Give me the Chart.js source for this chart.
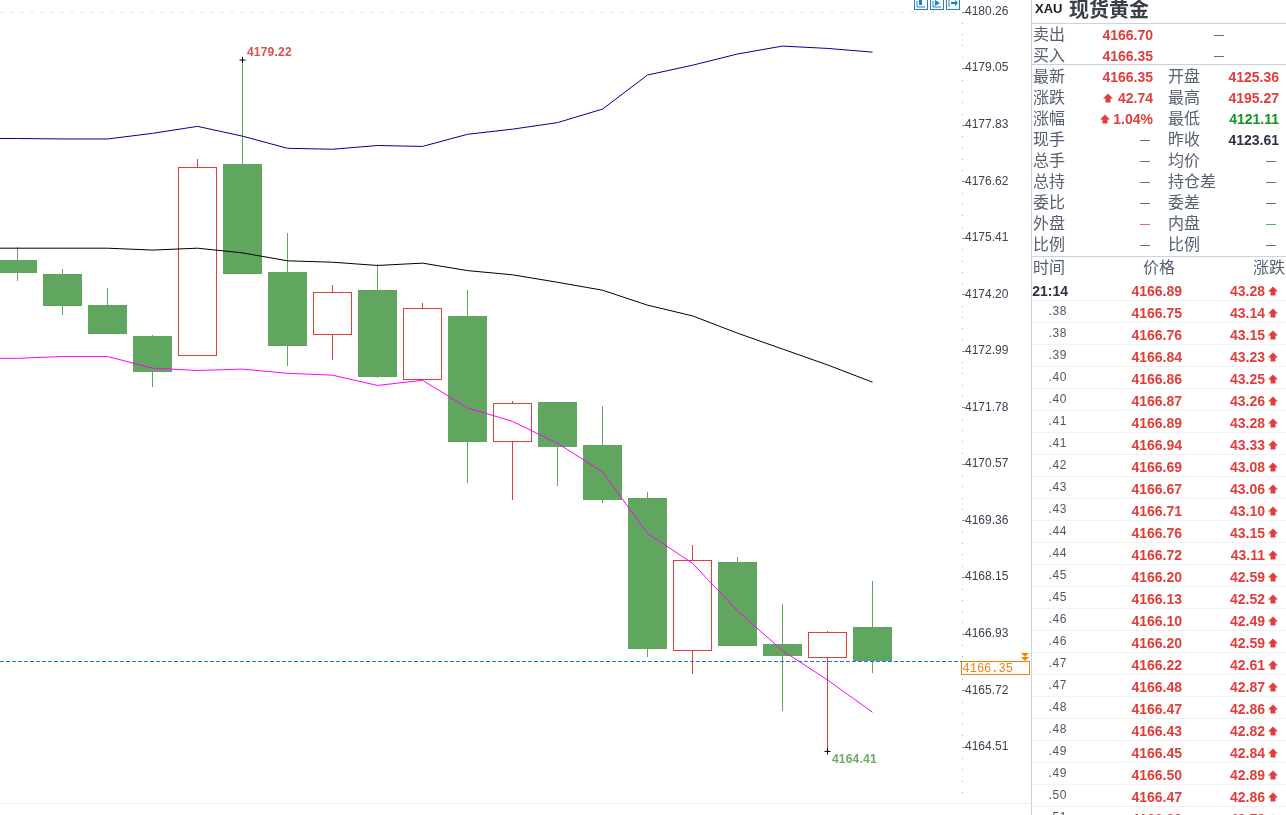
<!DOCTYPE html>
<html>
<head>
<meta charset="utf-8">
<title>XAU 现货黄金</title>
<script src="https://cdn.jsdelivr.net/npm/chart.js@4/dist/chart.umd.min.js"></script>
<style>
html, body { margin: 0; padding: 0; width: 1286px; height: 815px; overflow: hidden; background: #fff; }
#klineChart { position: absolute; left: 0; top: 0; display: block; }
#bottomRule { position: absolute; left: 0; top: 803px; width: 1031px; height: 1px; background: #eeeeee; }
#toolIcons { position: absolute; left: 914px; top: 0; width: 46px; height: 10px; }
#toolIcons svg { position: absolute; top: 0; }
#quotePanel { position: absolute; left: 1031px; top: 0; width: 255px; height: 815px; overflow: hidden; border-left: 1px solid #cdd5dc; box-sizing: border-box; }
#quotePanel .t { position: absolute; height: 20px; line-height: 20px; white-space: nowrap; }
#quotePanel .cn { font: 16px/16px "Noto Sans CJK SC", sans-serif; color: #566070; }
#quotePanel .num { font: bold 14px/20px "Liberation Sans", sans-serif; }
#quotePanel .sub { font: 12px/20px "Liberation Sans", sans-serif; color: #4d5766; letter-spacing: .6px; }
#quotePanel .dash { font: 10px/20px "Liberation Sans", sans-serif; color: #39424f; }
#quotePanel .rule { position: absolute; left: 0; right: 0; height: 1px; }
#quotePanel svg { position: absolute; }
</style>
</head>
<body>
<canvas id="klineChart" width="1031" height="815"></canvas>
<div id="bottomRule"></div>
<div id="toolIcons"></div>
<div id="quotePanel"></div>
<script>
// 5-minute candles, oldest first
const opens  = [4174.94, 4174.64, 4173.97, 4173.31, 4172.89, 4176.99, 4174.68, 4173.32, 4174.29, 4172.36, 4173.74, 4171.04, 4171.90, 4170.97, 4169.84, 4166.57, 4168.47, 4166.71, 4166.42, 4167.08];
const closes = [4174.66, 4173.95, 4173.35, 4172.54, 4176.94, 4174.64, 4173.09, 4174.25, 4172.43, 4173.91, 4171.03, 4171.87, 4170.94, 4169.80, 4166.60, 4168.51, 4166.67, 4166.45, 4166.96, 4166.35];
const highs  = [4175.22, 4174.74, 4174.34, 4173.33, 4177.10, 4179.22, 4175.51, 4174.40, 4174.85, 4174.02, 4174.29, 4171.92, 4171.90, 4171.81, 4169.97, 4168.83, 4168.57, 4167.57, 4166.99, 4168.06];
const lows   = [4174.49, 4173.76, 4173.35, 4172.22, 4172.89, 4174.64, 4172.67, 4172.79, 4172.41, 4172.36, 4170.16, 4169.80, 4170.10, 4169.73, 4166.43, 4166.07, 4166.67, 4165.28, 4164.41, 4166.10];

// band lines carry one extra leading value so they run in from the left edge
const upperBand = [4177.54, 4177.54, 4177.53, 4177.53, 4177.65, 4177.80, 4177.59, 4177.33, 4177.31, 4177.39, 4177.37, 4177.63, 4177.74, 4177.88, 4178.17, 4178.90, 4179.11, 4179.35, 4179.52, 4179.47, 4179.39];
const midBand   = [4175.19, 4175.19, 4175.19, 4175.19, 4175.15, 4175.19, 4175.09, 4174.92, 4174.89, 4174.82, 4174.87, 4174.71, 4174.62, 4174.46, 4174.29, 4173.97, 4173.74, 4173.37, 4173.03, 4172.69, 4172.32];
const lowerBand = [4172.83, 4172.83, 4172.87, 4172.87, 4172.62, 4172.57, 4172.60, 4172.51, 4172.47, 4172.25, 4172.36, 4171.77, 4171.48, 4171.01, 4170.40, 4169.08, 4168.44, 4167.42, 4166.57, 4165.94, 4165.25];

const priceTicks = [4180.26, 4179.05, 4177.83, 4176.62, 4175.41, 4174.20, 4172.99, 4171.78, 4170.57, 4169.36, 4168.15, 4166.93, 4165.72, 4164.51];
const lastPrice = 4166.35;
const highestIndex = 5;
const lowestIndex = 18;

// quote panel
const askBidLabels = ['卖出', '买入'];
const askBidValues = ['4166.70', '4166.35'];
const leftLabels = ['最新', '涨跌', '涨幅', '现手', '总手', '总持', '委比', '外盘', '比例'];
const leftValues = ['4166.35', '42.74', '1.04%', '—', '—', '—', '—', '—', '—'];
const rightLabels = ['开盘', '最高', '最低', '昨收', '均价', '持仓差', '委差', '内盘', '比例'];
const rightValues = ['4125.36', '4195.27', '4121.11', '4123.61', '—', '—', '—', '—', '—'];
const tradeHeaders = ['时间', '价格', '涨跌'];

// tick list
const tradeTimes = ['21:14', '.38', '.38', '.39', '.40', '.40', '.41', '.41', '.42', '.43', '.43', '.44', '.44', '.45', '.45', '.46', '.46', '.47', '.47', '.48', '.48', '.49', '.49', '.50', '.51'];
const tradePrices = ['4166.89', '4166.75', '4166.76', '4166.84', '4166.86', '4166.87', '4166.89', '4166.94', '4166.69', '4166.67', '4166.71', '4166.76', '4166.72', '4166.20', '4166.13', '4166.10', '4166.20', '4166.22', '4166.48', '4166.47', '4166.43', '4166.45', '4166.50', '4166.47', '4166.39'];
const tradeChanges = ['43.28', '43.14', '43.15', '43.23', '43.25', '43.26', '43.28', '43.33', '43.08', '43.06', '43.10', '43.15', '43.11', '42.59', '42.52', '42.49', '42.59', '42.61', '42.87', '42.86', '42.82', '42.84', '42.89', '42.86', '42.78'];

const RED = '#dc403c';
const GREEN = '#61a65e';
const ORANGE = '#f57f0c';
const TEXT_RED = '#df3e3a';

const isUp = i => closes[i] >= opens[i];
const candleColor = ctx => isUp(ctx.dataIndex) ? RED : GREEN;

// minor dots, major ticks, top rule, last-price tag and high/low captions
const klineDecor = {
    id: 'klineDecor',
    afterDatasetsUpdate(chart) {
        // snap candle edges and the last-price line to whole pixels so they stay sharp
        chart.data.datasets.forEach((ds, idx) => {
            const meta = chart.getDatasetMeta(idx);
            if (ds.label === 'last') {
                meta.data.forEach(pt => { pt.y = Math.round(pt.y) + 0.5; });
            }
            if (ds.type === 'line') return;
            meta.data.forEach(bar => {
                bar.x = Math.floor(bar.x) + 0.5;
                bar.y = Math.round(bar.y);
                bar.base = Math.round(bar.base);
            });
        });
    },
    afterDraw(chart) {
        const { ctx } = chart;
        const y = chart.scales.y;
        const x = chart.scales.x;
        const right = chart.chartArea.right;
        ctx.save();

        ctx.strokeStyle = '#e9e9e9';
        ctx.setLineDash([4, 6]);
        ctx.beginPath();
        const topY = Math.round(y.getPixelForValue(priceTicks[0])) + 0.5;
        ctx.moveTo(0, topY);
        ctx.lineTo(right - 2, topY);
        ctx.stroke();
        ctx.setLineDash([]);

        const step = (priceTicks[0] - priceTicks[1]) / 5;
        priceTicks.forEach((v, i) => {
            const py = Math.round(y.getPixelForValue(v));
            ctx.fillStyle = '#8d8d8d';
            ctx.fillRect(right, py, 3, 1);
            if (i === 0) return;
            for (let k = 1; k < 5; k++) {
                ctx.fillStyle = '#b5b5b5';
                ctx.fillRect(right, Math.round(y.getPixelForValue(v + step * k)), 1, 1);
            }
        });
        for (let k = 1; k < 5; k++) {
            const py = Math.round(y.getPixelForValue(priceTicks[priceTicks.length - 1] - step * k));
            ctx.fillStyle = '#b5b5b5';
            ctx.fillRect(right, py, 1, 1);
        }

        // last price tag
        const lastY = Math.round(y.getPixelForValue(lastPrice));
        ctx.strokeStyle = ORANGE;
        ctx.strokeRect(961.5, lastY + 0.5, 68, 13);
        ctx.fillStyle = ORANGE;
        ctx.font = '12px "Liberation Mono", monospace';
        ctx.textBaseline = 'middle';
        ctx.textAlign = 'left';
        ctx.fillText(lastPrice.toFixed(2), 962.5, lastY + 7.5);
        [lastY - 8, lastY - 4].forEach(ty => {
            ctx.beginPath();
            ctx.moveTo(1021, ty);
            ctx.lineTo(1029, ty);
            ctx.lineTo(1025, ty + 4);
            ctx.closePath();
            ctx.fill();
        });

        // high and low captions
        ctx.font = 'bold 12px "Liberation Sans", sans-serif';
        ctx.letterSpacing = '.2px';
        ctx.fillStyle = '#d9504c';
        ctx.fillText(highs[highestIndex].toFixed(2), x.getPixelForValue(highestIndex) + 4.5, y.getPixelForValue(highs[highestIndex]) - 7);
        ctx.fillStyle = '#6eaa69';
        ctx.fillText(lows[lowestIndex].toFixed(2), x.getPixelForValue(lowestIndex) + 4.5, y.getPixelForValue(lows[lowestIndex]) + 8);
        ctx.restore();
    }
};

const lineSet = (label, values, color) => ({
    type: 'line',
    label,
    data: values.map((v, i) => ({ x: i - 1, y: v })),
    borderColor: color,
    borderWidth: 1,
    pointRadius: 0,
    tension: 0,
    order: 1
});

const wicks = opens.map((_, i) => ({ x: i, y: [lows[i], highs[i]] }));
const bodies = opens.map((o, i) => ({ x: i, y: [o, closes[i]] }));
const xMin = -17.5 / 45;
const xMax = xMin + 962 / 45;

new Chart(document.getElementById('klineChart').getContext('2d'), {
    type: 'bar',
    data: {
        datasets: [
            {
                label: 'wick',
                data: wicks,
                backgroundColor: candleColor,
                borderWidth: 0,
                inflateAmount: 0,
                barThickness: 1,
                grouped: false,
                order: 3
            },
            {
                label: 'body',
                data: bodies,
                backgroundColor: ctx => isUp(ctx.dataIndex) ? '#ffffff' : GREEN,
                borderColor: candleColor,
                borderWidth: ctx => isUp(ctx.dataIndex) ? 1 : 0,
                borderSkipped: false,
                inflateAmount: 0,
                barThickness: 39,
                grouped: false,
                order: 2
            },
            lineSet('upper', upperBand, '#00008f'),
            lineSet('mid', midBand, '#000000'),
            lineSet('lower', lowerBand, '#ff00ff'),
            {
                type: 'line',
                label: 'last',
                data: [{ x: xMin, y: lastPrice }, { x: xMax, y: lastPrice }],
                borderColor: '#1c78dc',
                borderWidth: 1,
                borderDash: [4, 2],
                pointRadius: 0,
                order: 1
            },
            {
                type: 'line',
                label: 'extremes',
                data: [
                    { x: highestIndex, y: highs[highestIndex] },
                    { x: lowestIndex, y: lows[lowestIndex] }
                ],
                showLine: false,
                pointStyle: 'cross',
                pointRadius: 3,
                pointBorderColor: '#000000',
                pointBorderWidth: 1,
                order: 0
            }
        ]
    },
    options: {
        responsive: false,
        animation: false,
        layout: { autoPadding: false, padding: { bottom: 12 } },
        plugins: { legend: { display: false }, tooltip: { enabled: false } },
        scales: {
            x: { type: 'linear', display: false, min: xMin, max: xMax, offset: false },
            y: {
                position: 'right',
                min: 4163.305,
                max: 4180.507,
                afterBuildTicks: scale => { scale.ticks = priceTicks.map(v => ({ value: v })); },
                afterFit: scale => {
                    // fixed gutter, and no extra room for the first/last tick label
                    scale.width = 69;
                    scale.paddingTop = 0;
                    scale.paddingBottom = 0;
                },
                grid: { display: false, drawTicks: false },
                border: { display: false },
                ticks: {
                    autoSkip: false,
                    padding: 3,
                    color: '#39424f',
                    font: { family: '"Liberation Sans", sans-serif', size: 12 },
                    callback: v => v.toFixed(2)
                }
            }
        }
    },
    plugins: [klineDecor]
});

// small toolbar glyphs above the price axis
const toolGlyphs = [
    '<path d="M3 1v6h8" fill="none"/><rect x="5" y="0" width="3" height="5" stroke="none"/>',
    '<path d="M3 1v6h8" fill="none"/><path d="M5 0l5 3-5 3z" stroke="none"/>',
    '<path d="M3 0v7" fill="none"/><path d="M5 2h4v-2l3 3-3 3v-2h-4z" stroke="none"/>'
];
const toolIcons = document.getElementById('toolIcons');
toolGlyphs.forEach((glyph, i) => {
    toolIcons.innerHTML += `<svg style="left:${i * 16}px" width="14" height="10" stroke="#2280c8" fill="#2280c8">
        <rect x="0.5" y="-4" width="13" height="13.5" fill="none"/>${glyph}</svg>`;
});

// quote panel is plain positioned DOM text
const panel = document.getElementById('quotePanel');
const PX = 1032; // panel content origin on the page

function put(cls, text, opts) {
    const el = document.createElement('div');
    el.className = 't ' + cls;
    el.textContent = text;
    el.style.top = (opts.cy - 10) + 'px';
    if (opts.left !== undefined) el.style.left = (opts.left - PX) + 'px';
    if (opts.right !== undefined) el.style.right = (1286 - opts.right) + 'px';
    if (opts.color) el.style.color = opts.color;
    panel.appendChild(el);
    return el;
}

function rule(y, color) {
    const el = document.createElement('div');
    el.className = 'rule';
    el.style.top = y + 'px';
    el.style.background = color;
    panel.appendChild(el);
}

function upArrow(left, cy) {
    panel.insertAdjacentHTML('beforeend',
        `<svg style="left:${left - PX}px;top:${cy - 5}px" width="10" height="10"><path d="M5 0.5L10 5.5H7.5V9.5H2.5V5.5H0z" fill="${TEXT_RED}"/></svg>`);
}

const rowY = k => 35 + 21 * k;

// symbol heading
const symbol = put('', 'XAU', { left: 1035, cy: 9 });
symbol.style.font = 'bold 13px/20px "Liberation Sans", sans-serif';
symbol.style.color = '#1c1c1c';
const heading = put('', '现货黄金', { left: 1069, cy: 9 });
heading.style.font = 'bold 20px/20px "Noto Sans CJK SC", sans-serif';
heading.style.color = '#3b3f46';

rule(23, '#cbd3da');
rule(64, '#cbd3da');
rule(256, '#cbd3da');

askBidLabels.forEach((label, k) => {
    put('cn', label, { left: 1033, cy: rowY(k) });
    put('num', askBidValues[k], { right: 1153, cy: rowY(k), color: TEXT_RED });
    put('dash', '—', { left: 1214, cy: rowY(k) });
});

leftLabels.forEach((label, k) => {
    const cy = rowY(k + 2);
    put('cn', label, { left: 1033, cy });
    const value = leftValues[k];
    if (value === '—') {
        put('dash', value, { right: 1150, cy, color: label === '外盘' ? TEXT_RED : null });
    } else {
        put('num', value, { right: 1153, cy, color: TEXT_RED });
    }
});
upArrow(1103, rowY(3));
upArrow(1100, rowY(4));

rightLabels.forEach((label, k) => {
    const cy = rowY(k + 2);
    put('cn', label, { left: 1168, cy });
    const value = rightValues[k];
    if (value === '—') {
        put('dash', value, { right: 1276, cy, color: label === '内盘' ? '#1d9a2a' : null });
    } else {
        const color = label === '最低' ? '#12941f' : label === '昨收' ? '#2c3444' : TEXT_RED;
        put('num', value, { right: 1279, cy, color });
    }
});

put('cn', tradeHeaders[0], { left: 1033, cy: 268 });
put('cn', tradeHeaders[1], { left: 1143, cy: 268 });
put('cn', tradeHeaders[2], { right: 1285, cy: 268 });

tradeTimes.forEach((time, k) => {
    const cy = 291 + 22 * k;
    rule(300 + 22 * k, '#f0f2f4');
    if (k === 0) {
        put('num', time, { right: 1068, cy, color: '#2c3444' });
    } else {
        put('sub', time, { right: 1067, cy: cy - 2 });
    }
    put('num', tradePrices[k], { right: 1182, cy, color: TEXT_RED });
    put('num', tradeChanges[k], { right: 1265, cy, color: TEXT_RED });
    upArrow(1268, cy);
});
</script>
</body>
</html>
